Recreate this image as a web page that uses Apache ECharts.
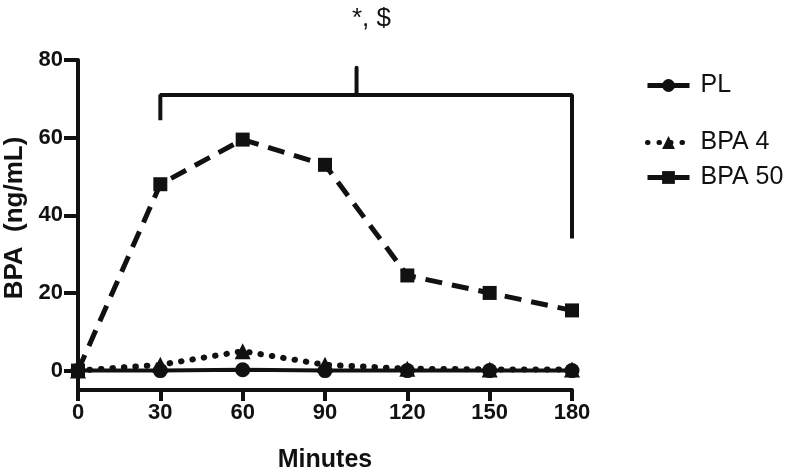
<!DOCTYPE html>
<html><head><meta charset="utf-8">
<script src="https://cdn.jsdelivr.net/npm/echarts@6/dist/echarts.min.js"></script>
<style>html,body{margin:0;padding:0;background:#fff}#c{width:789px;height:468px}</style>
</head><body><div id="c"></div>
<script>
const minutes = [0, 30, 60, 90, 120, 150, 180];
const pl = [0, 0, 0.2, 0, 0, 0, 0];
const bpa4 = [0, 1.5, 5, 1.5, 0.5, 0.3, 0.3];
const bpa50 = [0, 48, 59.5, 53, 24.5, 20, 15.5];
const yTicks = [0, 20, 40, 60, 80];
const xTicks = [0, 30, 60, 90, 120, 150, 180];
const bracket = [[30, 64.5], [30, 71], [180, 71], [180, 34]];
const bracketTick = [[101.5, 71], [101.5, 78]];
const sigText = '*, $';

const pair = (ys) => minutes.map((m, i) => [m, ys[i]]);
const chart = echarts.init(document.getElementById('c'));
const font = 'Liberation Sans';
const legendText = {fontFamily: font, fontSize: 25, color: '#111', padding: [0, 0, 0, 6]};
chart.setOption({
  animation: false,
  grid: {left: 78, right: 217, top: 60, bottom: 78, containLabel: false, outerBoundsMode: 'none'},
  xAxis: {
    type: 'value', min: 0, max: 180, interval: 30,
    name: 'Minutes', nameLocation: 'middle', nameGap: 58,
    nameTextStyle: {fontFamily: font, fontWeight: 'bold', fontSize: 25, color: '#111'},
    axisLine: {show: true, onZero: false, lineStyle: {color: '#111', width: 4}},
    axisTick: {show: true, length: 11, customValues: xTicks, lineStyle: {color: '#111', width: 4}},
    axisLabel: {fontFamily: font, fontWeight: 'bold', fontSize: 22, color: '#111', margin: 12, customValues: xTicks},
    splitLine: {show: false}
  },
  yAxis: {
    type: 'value', min: -5, max: 80,
    name: 'BPA  (ng/mL)', nameLocation: 'middle', nameGap: 44,
    nameTextStyle: {fontFamily: font, fontWeight: 'bold', fontSize: 26, color: '#111', padding: [0, 0, 0, 14]},
    axisLine: {show: true, onZero: false, lineStyle: {color: '#111', width: 4}},
    axisTick: {show: true, length: 14, customValues: yTicks, lineStyle: {color: '#111', width: 4}},
    axisLabel: {fontFamily: font, fontWeight: 'bold', fontSize: 22, color: '#111', margin: 15, customValues: yTicks},
    splitLine: {show: false}
  },
  legend: [
    {data: ['PL'], orient: 'vertical', left: 645, top: 73, padding: 0, itemWidth: 42, itemHeight: 16,
     lineStyle: {width: 5}, textStyle: legendText},
    {data: ['BPA 4', 'BPA 50'], orient: 'vertical', left: 645, top: 130, padding: 0, itemGap: 10, itemWidth: 42, itemHeight: 16,
     lineStyle: {width: 5}, textStyle: legendText}
  ],
  graphic: [{type: 'text', left: 352, top: 6, style: {text: sigText, fontFamily: font, fontSize: 26, fill: '#111'}}],
  series: [
    {name: 'BPA 50', type: 'line', data: pair(bpa50), symbol: 'rect', symbolSize: 14,
     itemStyle: {color: '#111'}, lineStyle: {color: '#111', width: 5, type: [17, 10]}, z: 3},
    {name: 'BPA 4', type: 'line', data: pair(bpa4), symbol: 'triangle', symbolSize: 16,
     itemStyle: {color: '#111'}, lineStyle: {color: '#111', width: 6, type: [0.5, 11], cap: 'round'}, z: 4},
    {name: 'PL', type: 'line', data: pair(pl), symbol: 'circle', symbolSize: 15,
     itemStyle: {color: '#111'}, lineStyle: {color: '#111', width: 4}, z: 5},
    {type: 'line', data: bracket, symbol: 'none', lineStyle: {color: '#111', width: 4}, silent: true},
    {type: 'line', data: bracketTick, symbol: 'none', lineStyle: {color: '#111', width: 4, cap: 'round'}, silent: true}
  ]
});
</script></body></html>
